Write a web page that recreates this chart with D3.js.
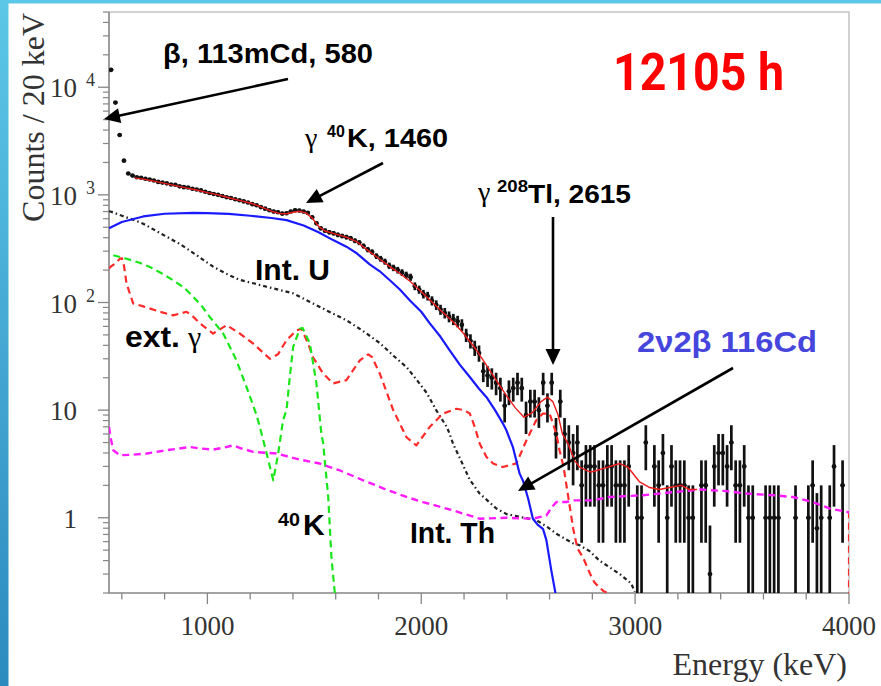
<!DOCTYPE html>
<html>
<head>
<meta charset="utf-8">
<script src="https://cdn.jsdelivr.net/npm/d3@7"></script>
<style>
  body { margin: 0; background: #fff; }
  svg { display: block; }
</style>
</head>
<body>
<svg id="chart" width="881" height="686"></svg>
<script>
// ---- Spectrum: counts per 20 keV bin, first bin 540-560 keV ----
const binStart = 540;
const binWidth = 20;
const binCounts = [
  14500, 7200, 3600, 2080, 1580, 1510, 1460, 1440, 1410, 1390, 1360, 1320, 1300, 1280, 1250, 1240, 1200, 1180, 1170, 1140, 1120, 1100, 1070,
  1040, 1020, 1000, 975, 950, 935, 910, 890, 870, 850,
  820, 800, 770, 745, 720, 700, 690, 670, 675, 700,
  720, 715, 700, 680, 620, 545, 490, 465, 450, 440,
  425, 415, 405, 395, 375, 360, 335, 310, 295, 270,
  255, 240, 220, 210, 200, 190, 180, 172, 142, 132,
  120, 115, 104, 95, 86, 80, 74, 70, 67, 62,
  50, 44, 38, 34, 23, 21, 20, 18, 16, 11,
  15, 16, 18, 16, 9, 12, 12, 10, 18, 11,
  18, 6, 12, 6, 5, 4, 5, 2, 3, 3,
  3, 2, 2, 3, 3, 2, 2, 2, 3, 0,
  1, 1, 5, 0, 3, 2, 4, 1, 3, 2,
  2, 2, 1, 1, 0, 2, 2, 0.3, 3, 4,
  4, 3, 5, 2, 2, 3, 1, 1, 0, 0,
  1, 1, 1, 1, 0, 0, 0, 1, 0, 0,
  1, 2, 0.8, 1, 0, 1, 3, 0, 2, 0
];

// ---- Model components, [energy keV, counts / 20 keV] ----
const totalFit = [
  [660,1440],[700,1400],[750,1340],[800,1280],[850,1220],[900,1160],[950,1110],[1000,1050],
  [1050,1000],[1100,940],[1150,890],[1200,840],[1250,775],[1300,705],[1340,670],[1370,668],
  [1400,690],[1430,705],[1460,680],[1490,610],[1520,510],[1550,462],[1600,432],[1650,405],
  [1700,365],[1750,305],[1800,258],[1850,218],[1900,186],[1950,156],[2000,126],[2050,101],
  [2100,81],[2150,66],[2200,51],[2250,38],[2300,27],[2350,19],[2400,13.5],[2440,10.5],
  [2480,8.6],[2520,9.5],[2560,12],[2590,13.2],[2615,12],[2640,9],[2660,6],[2686,4.9],
  [2717,3.4],[2740,2.96],[2772,2.76],[2795,2.66],[2850,2.86],[2928,3.19],[2966,2.96],
  [3021,2.15],[3068,1.91],[3114,1.83],[3161,1.91],[3216,2.0],[3255,1.83],[3290,1.83]
];
const cd116TwoNu = [
  [540,490],[600,560],[700,630],[800,668],[934,680],[1000,678],[1100,665],[1200,640],
  [1300,610],[1370,582],[1450,520],[1520,450],[1588,380],[1650,330],[1700,285],[1759,226],
  [1806,195],[1853,161],[1900,132],[1946,105],[2000,82],[2040,64],[2090,48],[2133,36],
  [2180,26.5],[2227,20.3],[2270,15.8],[2305,13.2],[2345,10],[2382,7.5],[2398,6.5],
  [2429,4.5],[2460,2.57],[2476,2.2],[2500,1.5],[2522,0.98],[2545,0.86],[2569,0.79],
  [2585,0.62],[2608,0.325],[2628,0.197]
];
const intU = [
  [540,705],[552,695],[600,640],[650,590],[700,540],[780,440],[871,350],[950,275],
  [1027,215],[1100,180],[1152,162],[1220,150],[1277,140],[1350,129],[1400,122],[1493,98],
  [1560,84],[1652,68],[1730,54],[1806,42],[1870,32],[1932,25],[1980,19],[2026,14.4],
  [2070,10],[2119,7.0],[2133,6.0],[2150,4.8],[2180,3.6],[2227,2.25],[2273,1.68],
  [2351,1.22],[2400,1.08],[2460,1.02],[2538,0.95],[2590,0.82],[2632,0.71],[2709,0.58],
  [2741,0.555],[2787,0.49],[2833,0.40],[2928,0.30],[2982,0.245],[2998,0.205]
];
const extGamma = [
  [540,207],[548,215],[568,230],[591,255],[600,258],[610,220],[622,150],[653,98],
  [700,92],[778,82],[840,76],[903,82],[930,75],[965,64],[1027,51.5],[1090,61.6],
  [1152,51.5],[1214,41.6],[1292,30],[1330,33],[1370,44.7],[1417,55],[1440,57],[1470,42],
  [1494,31],[1540,22],[1588,17.7],[1650,19],[1713,29],[1752,33],[1770,31],[1806,21.9],
  [1869,10],[1931,5.6],[1977,4.7],[2040,7.0],[2102,9.3],[2164,10.3],[2200,10],[2227,9.3],
  [2250,7],[2273,4.9],[2305,3.67],[2336,3.19],[2382,2.96],[2445,3.2],[2492,5.25],
  [2538,8.1],[2569,9.3],[2600,9.3],[2632,6.0],[2647,4.2],[2665,3.0],[2690,1.45],
  [2710,0.8],[2730,0.52],[2756,0.43],[2790,0.30],[2810,0.25],[2850,0.21],[2870,0.2]
];
const extGammaEdge = [[4000,1.15],[4000,0.2]];
const k40 = [
  [560,275],[622,255],[680,235],[731,214],[790,185],[840,161],[890,138],[934,113],
  [975,92],[1012,73],[1074,51.5],[1136,29],[1183,16.4],[1230,9],[1245,7],[1277,3.95],
  [1308,2.23],[1331,3.95],[1354,8.1],[1370,10],[1385,20],[1401,38.6],[1432,57],[1445,58],
  [1479,41.6],[1510,17.7],[1533,6],[1541,5],[1565,1.56],[1580,0.43],[1596,0.197]
];
const intTh = [
  [540,7.0],[548,5.5],[560,4.24],[591,3.81],[650,3.85],[716,3.95],[809,4.24],[918,4.54],
  [970,4.4],[1027,4.3],[1080,4.5],[1121,4.7],[1160,4.4],[1214,4.1],[1323,3.95],[1432,3.47],
  [1526,3.19],[1620,2.75],[1728,2.23],[1830,1.85],[1931,1.56],[2008,1.40],[2149,1.17],
  [2273,0.98],[2398,1.0],[2523,0.98],[2585,1.05],[2610,1.25],[2632,1.40],[2678,1.40],
  [2709,1.45],[2803,1.45],[2881,1.56],[3037,1.62],[3192,1.74],[3301,1.83],[3426,1.77],
  [3520,1.68],[3644,1.62],[3737,1.56],[3831,1.40],[3909,1.22],[3995,1.13],[4000,1.12]
];

// ---- Axis tick labels ----
const xTickValues = [1000, 2000, 3000, 4000];
const xTickLabels = ["1000", "2000", "3000", "4000"];
const yTickValues = [1, 10, 100, 1000, 10000];
const yTickBase = ["1", "10", "10", "10", "10"];
const yTickExp = ["", "", "2", "3", "4"];

// ---- Layout ----
const plot = { left: 109, right: 849, top: 12, bottom: 593 };
const x = d3.scaleLinear().domain([540, 4000]).range([plot.left, plot.right]);
const y = d3.scaleLog().domain([0.2, 50000]).range([plot.bottom, plot.top]);

const svg = d3.select("#chart");
const defs = svg.append("defs");

// slide edge
const grad = defs.append("linearGradient").attr("id", "edgeGrad")
  .attr("x1", 0).attr("y1", 0).attr("x2", 0).attr("y2", 1);
grad.append("stop").attr("offset", 0).attr("stop-color", "#5cc7e7");
grad.append("stop").attr("offset", 1).attr("stop-color", "#2c8abf");
svg.append("rect").attr("x", 0).attr("y", 0).attr("width", 881).attr("height", 3.5).attr("fill", "#5cc8e8");
svg.append("rect").attr("x", 0).attr("y", 0).attr("width", 8.5).attr("height", 686).attr("fill", "url(#edgeGrad)");

defs.append("clipPath").attr("id", "plotClip").append("rect")
  .attr("x", plot.left).attr("y", plot.top)
  .attr("width", plot.right - plot.left).attr("height", plot.bottom - plot.top);

// frame
svg.append("path")
  .attr("d", `M${plot.left},${plot.top}H${plot.right}V${plot.bottom}`)
  .attr("fill", "none").attr("stroke", "#c4c4c4").attr("stroke-width", 1.5);

// ---- Axes ----
const axisColor = "#858585";
const gx = svg.append("g");
const xMinor = d3.range(600, 4001, 200);
gx.selectAll("line.minor").data(xMinor).join("line")
  .attr("x1", d => x(d)).attr("x2", d => x(d))
  .attr("y1", plot.bottom).attr("y2", d => plot.bottom + (d % 1000 === 0 ? 11 : 6.5))
  .attr("stroke", axisColor).attr("stroke-width", 1.3);
gx.selectAll("text").data(xTickValues).join("text")
  .attr("x", d => x(d)).attr("y", 635)
  .attr("text-anchor", "middle")
  .attr("font-family", "Liberation Serif, Times New Roman, serif")
  .attr("font-size", 27).attr("fill", "#333")
  .text((d, i) => xTickLabels[i]);

const gy = svg.append("g");
const yMinor = [];
[0.1, 1, 10, 100, 1000, 10000].forEach(dec => {
  for (let m = 2; m <= 9; m++) {
    const v = dec * m;
    if (v >= 0.2 && v <= 50000) yMinor.push(v);
  }
});
gy.selectAll("line.minor").data(yMinor).join("line")
  .attr("x1", plot.left - 6).attr("x2", plot.left)
  .attr("y1", d => y(d)).attr("y2", d => y(d))
  .attr("stroke", axisColor).attr("stroke-width", 1.2);
gy.selectAll("line.major").data(yTickValues).join("line")
  .attr("x1", plot.left - 11).attr("x2", plot.left)
  .attr("y1", d => y(d)).attr("y2", d => y(d))
  .attr("stroke", axisColor).attr("stroke-width", 1.3);
const yLab = gy.selectAll("g.lab").data(yTickValues).join("g");
yLab.append("text")
  .attr("x", 77).attr("y", d => y(d) + 10)
  .attr("text-anchor", "end")
  .attr("font-family", "Liberation Serif, Times New Roman, serif")
  .attr("font-size", 27).attr("fill", "#333")
  .text((d, i) => yTickBase[i]);
yLab.append("text")
  .attr("x", 86).attr("y", d => y(d) - 1)
  .attr("font-family", "Liberation Serif, Times New Roman, serif")
  .attr("font-size", 18).attr("fill", "#333")
  .text((d, i) => yTickExp[i]);

// axis lines
svg.append("path")
  .attr("d", `M${plot.left},${plot.top}V${plot.bottom}H${plot.right}`)
  .attr("fill", "none").attr("stroke", axisColor).attr("stroke-width", 1.6);

// axis titles
svg.append("text")
  .attr("transform", `translate(44,13) rotate(-90)`)
  .attr("text-anchor", "end")
  .attr("font-family", "Liberation Serif, Times New Roman, serif")
  .attr("font-size", 32).attr("fill", "#333")
  .text("Counts / 20 keV");
svg.append("text")
  .attr("x", 847).attr("y", 675)
  .attr("text-anchor", "end")
  .attr("font-family", "Liberation Serif, Times New Roman, serif")
  .attr("font-size", 32).attr("fill", "#333")
  .text("Energy (keV)");

// ---- Data points with Poisson errors ----
const bins = binCounts.map((n, i) => ({
  e: binStart + binWidth * (i + 0.5),
  n: n
})).filter(d => d.n > 0);

const gData = svg.append("g").attr("clip-path", "url(#plotClip)");
gData.selectAll("line.err").data(bins).join("line")
  .attr("x1", d => x(d.e)).attr("x2", d => x(d.e))
  .attr("y1", d => y(d.n + Math.sqrt(d.n)))
  .attr("y2", d => {
    const lo = d.n - Math.sqrt(d.n);
    return lo > 0.2 ? y(lo) : plot.bottom + 2;
  })
  .attr("stroke", "#111").attr("stroke-width", 2.7);
gData.selectAll("line.wid").data(bins).join("line")
  .attr("x1", d => x(d.e - binWidth / 2)).attr("x2", d => x(d.e + binWidth / 2))
  .attr("y1", d => y(d.n)).attr("y2", d => y(d.n))
  .attr("stroke", "#111").attr("stroke-width", 1.8);
gData.selectAll("circle").data(bins).join("circle")
  .attr("cx", d => x(d.e)).attr("cy", d => y(d.n)).attr("r", 2.3)
  .attr("fill", "#111");

// ---- Model curves ----
const line = d3.line().x(d => x(d[0])).y(d => y(d[1]));
const gCurves = svg.append("g").attr("clip-path", "url(#plotClip)");
function curve(data, color, width, dash) {
  gCurves.append("path").datum(data)
    .attr("d", line)
    .attr("fill", "none")
    .attr("stroke", color)
    .attr("stroke-width", width)
    .attr("stroke-dasharray", dash || null)
    .attr("stroke-linejoin", "round");
}
curve(intU, "#222", 2.2, "4,3,1.5,3");
curve(extGamma, "#ff2a2a", 2.2, "7,4.5");
curve(extGammaEdge, "#ff2a2a", 2.2, "7,4.5");
curve(k40, "#19e619", 2.2, "7,4.5");
curve(intTh, "#ff1aff", 2.4, "7,4.5");
curve(cd116TwoNu, "#1a1aff", 2.2);
curve(totalFit, "#ee1c1c", 1.4);

// ---- Annotations ----
const sans = "Liberation Sans, Arial, sans-serif";
const serif = "Liberation Serif, Times New Roman, serif";
function label(str, px, py, size, opts) {
  opts = opts || {};
  const t = svg.append("text")
    .attr("x", px).attr("y", py)
    .attr("font-family", opts.family || sans)
    .attr("font-weight", opts.weight || "bold")
    .attr("font-size", size)
    .attr("fill", opts.fill || "#000")
    .text(str);
  if (opts.width) t.attr("textLength", opts.width).attr("lengthAdjust", "spacingAndGlyphs");
  return t;
}
function arrow(x1, y1, x2, y2) {
  const len = Math.hypot(x2 - x1, y2 - y1);
  const ux = (x2 - x1) / len, uy = (y2 - y1) / len;
  const headL = 16, headW = 7.5;
  const bx = x2 - ux * headL, by = y2 - uy * headL;
  svg.append("line").attr("x1", x1).attr("y1", y1).attr("x2", bx + ux * 2).attr("y2", by + uy * 2)
    .attr("stroke", "#000").attr("stroke-width", 2.6);
  svg.append("path")
    .attr("d", `M${x2},${y2}L${bx - uy * headW},${by + ux * headW}L${bx + uy * headW},${by - ux * headW}Z`)
    .attr("fill", "#000");
}

label("β, 113mCd, 580", 163, 63, 28, { width: 210 });
arrow(288, 79, 104, 119);

label("γ", 305, 147, 28, { family: serif, weight: "normal" });
label("40", 327, 137, 16);
label("K, 1460", 347, 147, 26, { width: 101 });
arrow(383, 163, 306, 203);

label("γ", 478, 201, 28, { family: serif, weight: "normal" });
label("208", 497, 192, 16, { width: 31 });
label("Tl, 2615", 528, 203, 26, { width: 103 });
arrow(553, 217, 553, 365);

label("12105 h", 613, 90, 52, { family: "Roboto, Arial, sans-serif", fill: "#ff0000", width: 171 });

label("Int. U", 255, 280, 30, { width: 75 });
label("ext.", 125, 347, 30, { width: 55 });
label("γ", 188, 347, 30, { family: serif, weight: "normal" });
label("40", 278, 526, 19, { width: 22 });
label("K", 303, 535, 30);
label("Int. Th", 410, 543, 30, { width: 85 });

label("2ν2β 116Cd", 637, 352, 30, { fill: "#4646dc", width: 180 });
arrow(733, 368, 518, 491);
</script>
</body>
</html>
